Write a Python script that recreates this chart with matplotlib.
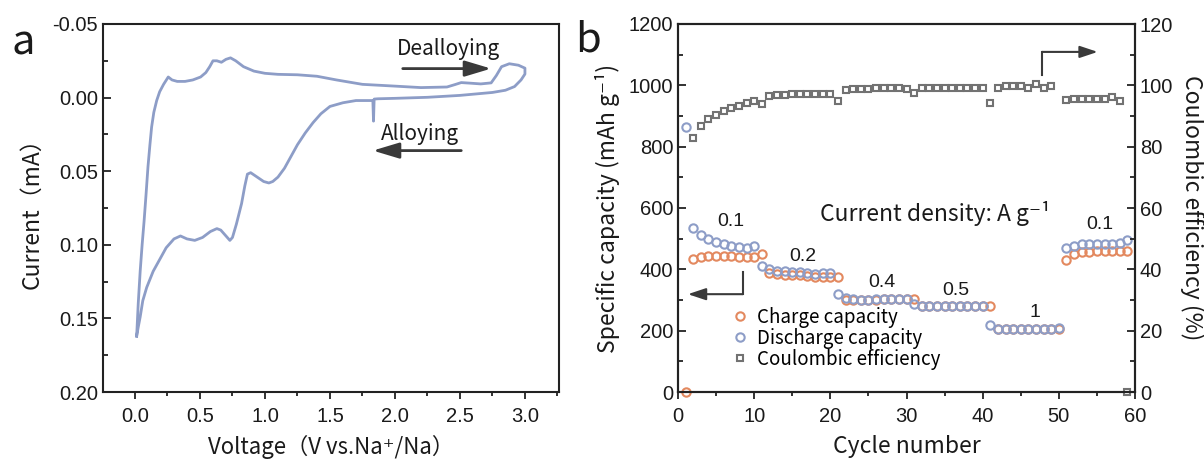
import numpy as np
import matplotlib
matplotlib.use('Agg')
import matplotlib.pyplot as plt
from matplotlib.ticker import MultipleLocator, FormatStrFormatter
from matplotlib.lines import Line2D

plt.rcParams['axes.unicode_minus'] = False
plt.rcParams['font.family'] = ['Liberation Sans', 'DejaVu Sans']

LBL = ['Noto Sans CJK SC', 'DejaVu Sans']   # etiquetas (tipo Myriad)
TXT = '#1a1a1a'
ARROW = '#3a3a3a'
CV_COLOR = '#8d9dc7'
CHG_COLOR = '#e3895f'
DIS_COLOR = '#8d9dc7'
CE_COLOR = '#727272'

# ---- (a) curva CV ----
voltage = [0.013, 0.025, 0.04, 0.055, 0.07, 0.085, 0.10, 0.115, 0.128, 0.145, 0.167, 0.19,
           0.22, 0.256, 0.285, 0.325, 0.385, 0.445, 0.505, 0.545, 0.575, 0.60, 0.63, 0.665,
           0.70, 0.735, 0.775, 0.835, 0.915, 1.00, 1.10, 1.25, 1.40, 1.55, 1.75, 2.00, 2.20,
           2.40, 2.46, 2.51, 2.58, 2.66, 2.74, 2.78, 2.82, 2.88, 2.95, 3.00, 3.00, 2.97, 2.92,
           2.85, 2.75, 2.50, 2.25, 2.00, 1.87, 1.84, 1.835, 1.83, 1.70, 1.60, 1.50, 1.43,
           1.37, 1.31, 1.25, 1.20, 1.15, 1.10, 1.06, 1.03, 0.99, 0.94, 0.89, 0.865, 0.845,
           0.82, 0.80, 0.78, 0.75, 0.73, 0.70, 0.66, 0.63, 0.58, 0.52, 0.46, 0.40, 0.35,
           0.30, 0.24, 0.19, 0.14, 0.09, 0.06, 0.04, 0.025, 0.013]
current = [0.162, 0.140, 0.118, 0.100, 0.084, 0.066, 0.047, 0.032, 0.020, 0.010, 0.002, -0.004,
           -0.009, -0.014, -0.012, -0.011, -0.011, -0.012, -0.014, -0.017, -0.021, -0.025, -0.025, -0.024,
           -0.026, -0.027, -0.025, -0.021, -0.018, -0.0165, -0.0158, -0.0155, -0.0145, -0.012, -0.009, -0.0078, -0.0068,
           -0.0072, -0.0088, -0.0102, -0.0098, -0.0093, -0.010, -0.015, -0.021, -0.023, -0.022, -0.020, -0.016, -0.012, -0.0075,
           -0.005, -0.0035, -0.0015, -0.0002, 0.0005, 0.0008, 0.001, 0.016, 0.002, 0.002, 0.0035, 0.006, 0.011,
           0.017, 0.024, 0.032, 0.040, 0.048, 0.054, 0.057, 0.058, 0.057, 0.054, 0.051, 0.052, 0.060,
           0.072, 0.079, 0.086, 0.095, 0.097, 0.094, 0.090, 0.089, 0.091, 0.095, 0.097, 0.096, 0.094,
           0.096, 0.102, 0.110, 0.118, 0.129, 0.138, 0.149, 0.156, 0.162]

# ---- (b) capacidad de velocidad ----
cycles = list(range(1, 60))
charge_cap = [0,
              434, 441, 445, 445, 444, 444, 441, 441, 441,
              450,
              387, 385, 382, 382, 380, 377, 375, 375, 375,
              376,
              300, 299, 299, 300, 301, 302, 302, 303, 303,
              303,
              279, 279, 279, 279, 279, 279, 279, 279, 279,
              280,
              206, 206, 206, 206, 206, 206, 206, 206, 206,
              432, 449, 455, 458, 460, 461, 461, 461, 461]
discharge_cap = [865,
                 534, 512, 498, 488, 481, 477, 472, 468, 476,
                 411, 400, 394, 393, 391, 390, 388, 386, 388, 388,
                 319,
                 305, 303, 300, 301, 302, 303, 303, 304, 304,
                 287,
                 281, 280, 280, 280, 280, 280, 280, 280, 281,
                 218,
                 207, 207, 207, 207, 207, 207, 207, 207, 209,
                 468, 476, 481, 482, 482, 482, 482, 485, 496]
ce_cycles = list(range(2, 50)) + list(range(51, 60))
ce_values = [82.7, 86.7, 89.0, 90.3, 91.6, 92.5, 93.3, 94.1, 94.9, 93.9,
             96.5, 96.8, 97.0, 97.1, 97.1, 97.1, 97.2, 97.2, 97.3, 94.9,
             98.5, 98.7, 98.8, 98.9, 99.0, 99.0, 99.0, 99.0, 98.9, 97.6,
             99.0, 99.1, 99.1, 99.2, 99.1, 99.1, 99.2, 99.1, 99.2, 94.1,
             99.0, 99.8, 99.8, 99.8, 99.0, 100.4, 99.0, 99.8,
             95.2, 95.5, 95.5, 95.6, 95.6, 95.7, 96.3, 95.0, 0]

rate_labels = ['0.1', '0.2', '0.4', '0.5', '1', '0.1']
rate_x = [6.9, 16.4, 26.8, 36.5, 46.9, 55.4]
rate_y = [555, 443, 356, 330, 260, 545]

fig = plt.figure(figsize=(12.04, 4.63), dpi=100)
ax_a = fig.add_axes([103/1204, 71/463, 456/1204, 368/463])
ax_b = fig.add_axes([678/1204, 71/463, 457/1204, 368/463])

# Panel a
ax_a.plot(voltage, current, color=CV_COLOR, lw=2.0, solid_joinstyle='round')
ax_a.set_xlim(-0.246, 3.262)
ax_a.set_ylim(0.20, -0.05)
ax_a.xaxis.set_major_locator(MultipleLocator(0.5))
ax_a.xaxis.set_minor_locator(MultipleLocator(0.25))
ax_a.yaxis.set_major_locator(MultipleLocator(0.05))
ax_a.yaxis.set_minor_locator(MultipleLocator(0.025))
ax_a.xaxis.set_major_formatter(FormatStrFormatter('%.1f'))
ax_a.yaxis.set_major_formatter(FormatStrFormatter('%.2f'))

ax_a.annotate('', xy=(2.74, -0.0197), xytext=(2.06, -0.0197),
              arrowprops=dict(arrowstyle='-|>,head_length=1.0,head_width=0.3',
                              color=ARROW, lw=2, mutation_scale=16, shrinkA=0, shrinkB=0))
ax_a.text(2.41, -0.033, 'Dealloying', family=LBL, fontsize=15, color=TXT, ha='center', va='center')
ax_a.annotate('', xy=(1.83, 0.036), xytext=(2.51, 0.036),
              arrowprops=dict(arrowstyle='-|>,head_length=1.0,head_width=0.3',
                              color=ARROW, lw=2, mutation_scale=16, shrinkA=0, shrinkB=0))
ax_a.text(2.19, 0.0245, 'Alloying', family=LBL, fontsize=15, color=TXT, ha='center', va='center')

ax_a.set_xlabel('Voltage（V vs.Na⁺/Na）', family=LBL, fontsize=16, color=TXT, va='center')
ax_a.xaxis.set_label_coords(0.5, -0.149)
ax_a.set_ylabel('Current（mA）', family=LBL, fontsize=16.5, color=TXT, va='center')
ax_a.yaxis.set_label_coords(-0.156, 0.5)

# Panel b
ax_b.plot(cycles, charge_cap, 'o', ms=6, mfc='none', mec=CHG_COLOR, mew=1.5, clip_on=False)
ax_b.plot(cycles, discharge_cap, 'o', ms=6, mfc='none', mec=DIS_COLOR, mew=1.5, clip_on=False)
ax_b.set_xlim(0, 60)
ax_b.set_ylim(0, 1200)
ax_b.xaxis.set_major_locator(MultipleLocator(10))
ax_b.xaxis.set_minor_locator(MultipleLocator(5))
ax_b.yaxis.set_major_locator(MultipleLocator(200))
ax_b.yaxis.set_minor_locator(MultipleLocator(100))

ax_c = ax_b.twinx()
ax_c.plot(ce_cycles, ce_values, 's', ms=5, mfc='none', mec=CE_COLOR, mew=1.5, clip_on=False)
ax_c.set_ylim(0, 120)
ax_c.yaxis.set_major_locator(MultipleLocator(20))
ax_c.yaxis.set_minor_locator(MultipleLocator(10))

for lab, x, y in zip(rate_labels, rate_x, rate_y):
    ax_b.text(x, y, lab, fontsize=14, color=TXT, ha='center', va='center')
ax_b.text(18.6, 583, 'Current density: A g⁻¹', family=LBL, fontsize=16.5, color=TXT,
          ha='left', va='center')

# flechas de eje
ax_b.plot([8.5, 8.5], [391, 319], color=ARROW, lw=1.5)
ax_b.annotate('', xy=(1.3, 319), xytext=(8.5, 319),
              arrowprops=dict(arrowstyle='-|>,head_length=0.9,head_width=0.3',
                              color=ARROW, lw=1.5, mutation_scale=12, shrinkA=0, shrinkB=0))
ax_c.plot([47.8, 47.8], [103.4, 110.9], color=ARROW, lw=1.5)
ax_c.annotate('', xy=(55.1, 110.9), xytext=(47.8, 110.9),
              arrowprops=dict(arrowstyle='-|>,head_length=0.9,head_width=0.3',
                              color=ARROW, lw=1.5, mutation_scale=12, shrinkA=0, shrinkB=0))

handles = [Line2D([], [], ls='none', marker='o', ms=6, mfc='none', mec=CHG_COLOR, mew=1.5),
           Line2D([], [], ls='none', marker='o', ms=6, mfc='none', mec=DIS_COLOR, mew=1.5),
           Line2D([], [], ls='none', marker='s', ms=5, mfc='none', mec=CE_COLOR, mew=1.5)]
ax_c.legend(handles, ['Charge capacity', 'Discharge capacity', 'Coulombic efficiency'],
            loc='upper left', bbox_to_anchor=(0.115, 0.232), frameon=False,
            prop={'family': LBL, 'size': 13.5}, handlelength=1.0, handletextpad=0.4,
            labelspacing=0.0, borderpad=0, borderaxespad=0)

ax_b.set_xlabel('Cycle number', family=LBL, fontsize=16.5, color=TXT, va='center')
ax_b.xaxis.set_label_coords(0.5, -0.149)
ax_b.set_ylabel('Specific capacity (mAh g⁻¹)', family=LBL, fontsize=16.5, color=TXT, va='center')
ax_b.yaxis.set_label_coords(-0.155, 0.5)
ax_c.set_ylabel('Coulombic efficiency (%)', family=LBL, fontsize=16.5, color=TXT,
                rotation=270, va='center')
ax_c.yaxis.set_label_coords(1.125, 0.5)

for ax in (ax_a, ax_b, ax_c):
    for s in ax.spines.values():
        s.set_linewidth(1.5)
        s.set_color('#222222')
    ax.tick_params(axis='both', which='both', labelsize=14.5, colors='#222222', width=1.3)
    ax.tick_params(axis='y', which='major', direction='in', length=6)
    ax.tick_params(axis='y', which='minor', direction='in', length=3.5)
    ax.tick_params(axis='x', which='major', direction='out', length=5, pad=6)
    ax.tick_params(axis='x', which='minor', direction='out', length=3)
    for t in ax.get_xticklabels() + ax.get_yticklabels():
        t.set_color(TXT)

fig.text(23/1204, 1 - 43/463, 'a', family=LBL, fontsize=30, color=TXT, ha='center', va='center')
fig.text(588/1204, 1 - 40/463, 'b', family=LBL, fontsize=30, color=TXT, ha='center', va='center')

fig.savefig('out.png', dpi=100)
